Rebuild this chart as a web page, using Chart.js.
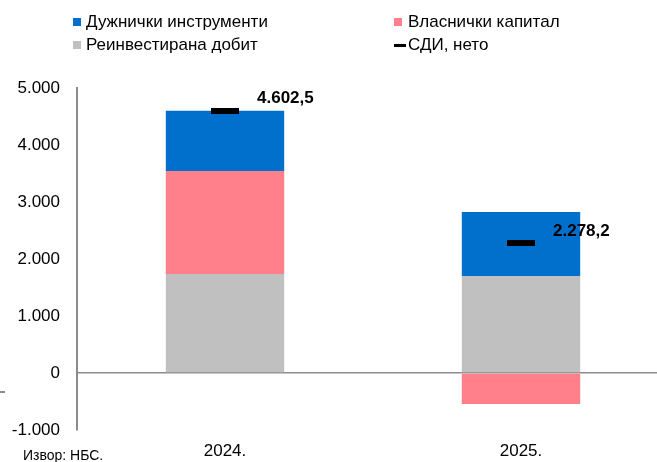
<!DOCTYPE html>
<html>
<head>
<meta charset="utf-8">
<script src="https://cdn.jsdelivr.net/npm/chart.js@4.4.1/dist/chart.umd.min.js"></script>
<style>
    body { margin: 0; background: #fff; }
    #wrap { position: relative; width: 657px; height: 462px; overflow: hidden; font-family: "Liberation Sans", Arial, sans-serif; }
    #fdiChart { position: absolute; left: 0; top: 0; }
    .leg { position: absolute; font-size: 17px; color: #000; line-height: 20px; white-space: nowrap; }
    .leg i { position: absolute; display: block; }
    #source { position: absolute; left: 23px; top: 448px; font-size: 14px; line-height: 14px; color: #000; }
    #tick { position: absolute; left: 0; top: 391px; width: 5px; height: 1.5px; background: #8c8c8c; }
</style>
</head>
<body>
<div id="wrap">
    <canvas id="fdiChart" width="680" height="462"></canvas>
    <div id="legend"></div>
    <div id="tick"></div>
    <div id="source">Извор: НБС.</div>
</div>
<script>
const years = ['2024.', '2025.'];
const reinvested = [1735, 1700];
const equity = [1810, -545];
const debt = [1057.5, 1123.2];
const netFdi = [4602.5, 2278.2];
const yTicks = [-1000, 0, 1000, 2000, 3000, 4000, 5000];

const seriesNames = {
    debt: 'Дужнички инструменти',
    equity: 'Власнички капитал',
    reinvested: 'Реинвестирана добит',
    net: 'СДИ, нето'
};

function fmtNum(v, dec) {
    const parts = Math.abs(v).toFixed(dec).split('.');
    const intPart = parts[0].replace(/\B(?=(\d{3})+(?!\d))/g, '.');
    return (v < 0 ? '-' : '') + intPart + (parts[1] ? ',' + parts[1] : '');
}

// black bar used as the net FDI marker
const marker = document.createElement('canvas');
marker.width = 28;
marker.height = 6;
const mctx = marker.getContext('2d');
mctx.fillStyle = '#000';
mctx.fillRect(0, 0, 28, 6);

const netLabels = {
    id: 'netLabels',
    afterDatasetsDraw(chart) {
        const meta = chart.getDatasetMeta(3);
        const ctx = chart.ctx;
        ctx.save();
        ctx.font = 'bold 17px "Liberation Sans", Arial, sans-serif';
        ctx.fillStyle = '#000';
        ctx.textAlign = 'left';
        ctx.textBaseline = 'middle';
        meta.data.forEach((pt, i) => {
            ctx.fillText(fmtNum(netFdi[i], 1), pt.x + 32, pt.y - 12);
        });
        ctx.restore();
    }
};

const ctx = document.getElementById('fdiChart').getContext('2d');
const fdiChart = new Chart(ctx, {
    data: {
        labels: years,
        datasets: [
            { type: 'bar', label: seriesNames.reinvested, data: reinvested, backgroundColor: '#c0c0c0', stack: 'a', order: 2 },
            { type: 'bar', label: seriesNames.equity, data: equity, backgroundColor: '#ff808b', stack: 'a', order: 2 },
            { type: 'bar', label: seriesNames.debt, data: debt, backgroundColor: '#0070cc', stack: 'a', order: 2 },
            {
                type: 'line', label: seriesNames.net, data: netFdi, stack: 'b', order: 0,
                showLine: false, pointStyle: marker, pointRadius: 10,
                borderColor: '#000', backgroundColor: '#000'
            }
        ]
    },
    options: {
        responsive: false,
        animation: false,
        layout: { padding: { top: 88, left: 0, right: 0, bottom: 0 } },
        datasets: { bar: { categoryPercentage: 0.4, barPercentage: 1 } },
        plugins: {
            legend: { display: false },
            tooltip: { enabled: false }
        },
        scales: {
            x: {
                stacked: true,
                grid: { display: false },
                border: { display: false },
                ticks: { color: '#000', padding: 3, font: { family: '"Liberation Sans", Arial, sans-serif', size: 17 } },
                afterFit(scale) { scale.height = 32; }
            },
            y: {
                stacked: true,
                min: -1000,
                max: 5000,
                afterBuildTicks(scale) { scale.ticks = yTicks.map(v => ({ value: v })); },
                grid: {
                    drawTicks: false,
                    lineWidth: 1.5,
                    color: c => (c.tick && c.tick.value === 0 ? '#8c8c8c' : 'transparent')
                },
                border: { color: '#8c8c8c', width: 2 },
                ticks: {
                    color: '#000',
                    padding: 17,
                    font: { family: '"Liberation Sans", Arial, sans-serif', size: 17 },
                    callback: v => fmtNum(v, 0)
                },
                afterFit(scale) { scale.width = 77; }
            }
        }
    },
    plugins: [netLabels]
});

// legend in two columns, built from the datasets
function buildLegend() {
    const order = [2, 1, 0, 3];
    const cols = [73, 394];
    const rows = [12, 35];
    const box = document.getElementById('legend');
    order.forEach((di, k) => {
        const ds = fdiChart.data.datasets[di];
        const el = document.createElement('div');
        el.className = 'leg';
        el.style.left = cols[k % 2] + 'px';
        el.style.top = rows[Math.floor(k / 2)] + 'px';
        el.style.paddingLeft = (k % 2 ? 14 : 13) + 'px';
        const sw = document.createElement('i');
        if (ds.type === 'line') {
            sw.style.cssText = 'left:0;top:9px;width:12px;height:3px;background:#000;';
        } else {
            sw.style.cssText = 'left:0;top:6px;width:8px;height:8px;background:' + ds.backgroundColor + ';';
        }
        el.appendChild(sw);
        el.appendChild(document.createTextNode(ds.label));
        box.appendChild(el);
    });
}
buildLegend();
</script>
</body>
</html>
